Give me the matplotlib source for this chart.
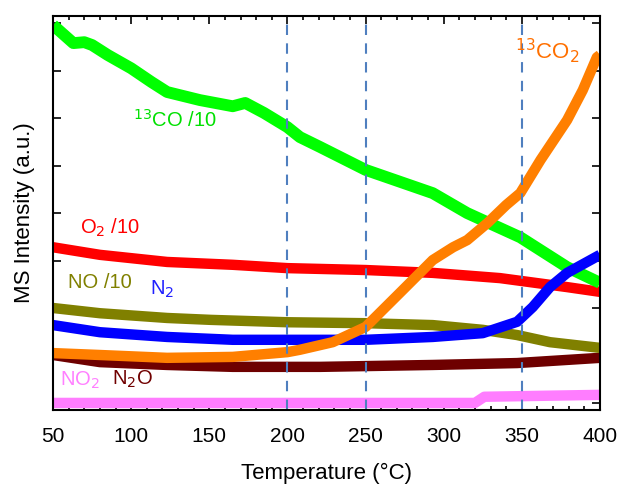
import numpy as np
import matplotlib.pyplot as plt
from matplotlib.ticker import MultipleLocator

plt.rcParams['font.family'] = ['Liberation Sans', 'DejaVu Sans']

# 13CO /10
co_T = [50, 63, 70, 75, 85, 100, 113, 123, 144, 165, 173, 185, 200, 208, 221, 250, 293, 315, 349, 379, 400]
co_I = [7.96, 7.58, 7.6, 7.54, 7.33, 7.05, 6.76, 6.55, 6.38, 6.25, 6.32, 6.11, 5.81, 5.6, 5.39, 4.91, 4.42, 4.0, 3.49, 2.86, 2.53]

# 13CO2
co2_T = [50, 80, 123, 165, 200, 208, 229, 250, 272, 293, 306, 315, 328, 340, 349, 362, 379, 389, 398, 400]
co2_I = [1.05, 1.01, 0.95, 0.97, 1.07, 1.12, 1.28, 1.6, 2.32, 3.01, 3.28, 3.43, 3.79, 4.17, 4.42, 5.12, 5.96, 6.59, 7.28, 7.33]

# O2 /10
o2_T = [50, 80, 123, 165, 200, 250, 293, 336, 379, 400]
o2_I = [3.28, 3.12, 2.97, 2.91, 2.84, 2.80, 2.74, 2.63, 2.44, 2.34]

# NO /10
no_T = [50, 80, 123, 151, 200, 250, 293, 325, 347, 368, 400]
no_I = [2.0, 1.89, 1.79, 1.75, 1.7, 1.68, 1.64, 1.54, 1.43, 1.28, 1.16]

# N2
n2_T = [50, 80, 123, 165, 200, 250, 293, 325, 347, 357, 368, 379, 400]
n2_I = [1.64, 1.49, 1.39, 1.33, 1.33, 1.33, 1.39, 1.47, 1.71, 2.02, 2.44, 2.74, 3.12]

# N2O
n2o_T = [50, 80, 123, 165, 221, 293, 347, 400]
n2o_I = [1.01, 0.86, 0.80, 0.76, 0.76, 0.80, 0.84, 0.95]

# NO2
no2_T = [50, 200, 320, 326, 400]
no2_I = [0.0, 0.0, 0.0, 0.13, 0.17]

vlines = [200, 250, 350]

fig = plt.figure(figsize=(6.18, 4.87), dpi=100)
ax = fig.add_axes([0.0858, 0.158, 0.885, 0.809])

ax.plot(no2_T, no2_I, color='#ff7dff', lw=7.5, solid_capstyle='butt')
ax.plot(n2o_T, n2o_I, color='#6e0000', lw=7.5, solid_capstyle='butt')
ax.plot(no_T, no_I, color='#808000', lw=7.5, solid_capstyle='butt')
ax.plot(o2_T, o2_I, color='#ff0000', lw=7.5, solid_capstyle='butt')
ax.plot(co_T, co_I, color='#00ff00', lw=8.5, solid_capstyle='butt')
ax.plot(n2_T, n2_I, color='#0000ff', lw=7.5, solid_capstyle='butt')
ax.plot(co2_T, co2_I, color='#ff7f00', lw=7.5, solid_capstyle='butt')

for v in vlines:
    ax.axvline(v, color='#4f7fbf', lw=1.5, ls=(0, (5, 4)))

ax.text(101, 5.96, '$^{13}$CO /10', color='#00e000', fontsize=14.5, va='center')
ax.text(67, 3.68, 'O$_2$ /10', color='#ff0000', fontsize=14.5, va='center')
ax.text(59.6, 2.53, 'NO /10', color='#808000', fontsize=14.5, va='center')
ax.text(112, 2.4, 'N$_2$', color='#2020ff', fontsize=14.5, va='center')
ax.text(54.5, 0.48, 'NO$_2$', color='#ff80ff', fontsize=14.5, va='center')
ax.text(88, 0.5, 'N$_2$O', color='#700000', fontsize=14.5, va='center')
ax.text(345.6, 7.43, '$^{13}$CO$_2$', color='#ff7000', fontsize=16, va='center')

ax.set_xlim(50, 400)
ax.set_ylim(-0.15, 8.15)
ax.xaxis.set_major_locator(MultipleLocator(50))
ax.xaxis.set_minor_locator(MultipleLocator(10))
ax.yaxis.set_major_locator(MultipleLocator(1))
ax.set_yticklabels([])
ax.tick_params(which='both', direction='in', top=True, right=True, width=1.2)
ax.tick_params(which='major', length=6, labelsize=15, pad=12)
ax.tick_params(which='minor', length=3)
for s in ax.spines.values():
    s.set_linewidth(1.5)

ax.set_xlabel('Temperature (°C)', fontsize=16, labelpad=12)
ax.set_ylabel('MS Intensity (a.u.)', fontsize=16, labelpad=1)

fig.savefig('out.png', dpi=100)
